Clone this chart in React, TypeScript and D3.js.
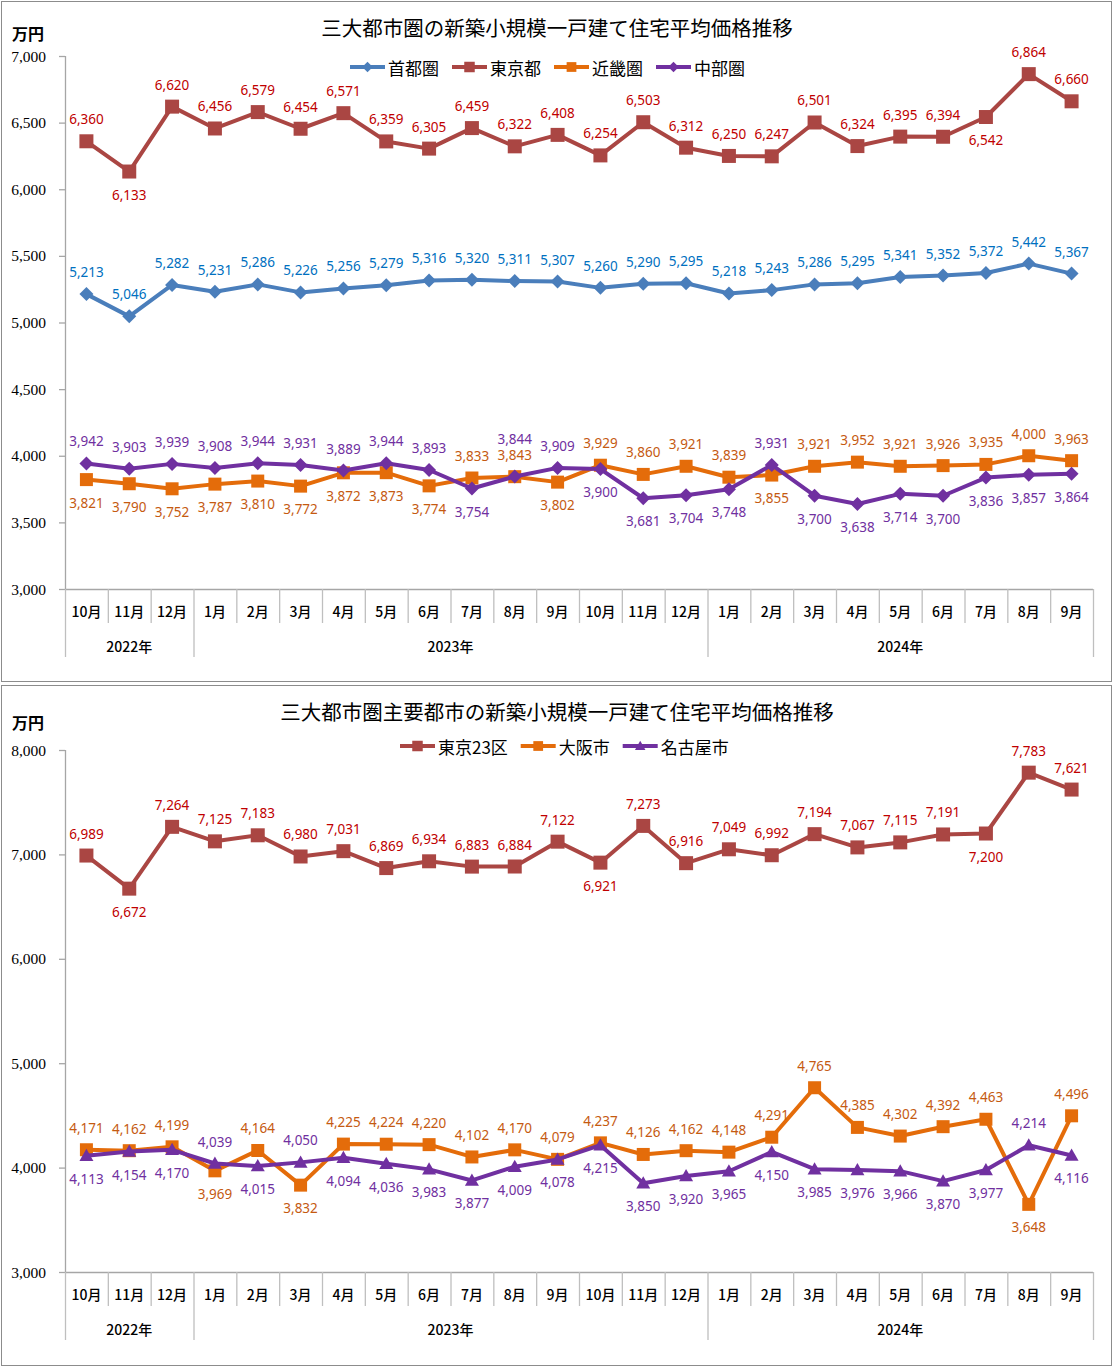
import React from "react";
import * as d3 from "d3";

// categories
const months = [
    "10月", "11月", "12月",
    "1月", "2月", "3月", "4月", "5月", "6月", "7月", "8月", "9月", "10月", "11月", "12月",
    "1月", "2月", "3月", "4月", "5月", "6月", "7月", "8月", "9月",
];
const yearLabels = ["2022年", "2023年", "2024年"];
const yearSpans = [3, 12, 9];

// chart 1 : 三大都市圏
const chart1Title = "三大都市圏の新築小規模一戸建て住宅平均価格推移";
const chart1Names = ["首都圏", "東京都", "近畿圏", "中部圏"];
const shutoken = [5213, 5046, 5282, 5231, 5286, 5226, 5256, 5279, 5316, 5320, 5311, 5307, 5260, 5290, 5295, 5218, 5243, 5286, 5295, 5341, 5352, 5372, 5442, 5367];
const tokyoto = [6360, 6133, 6620, 6456, 6579, 6454, 6571, 6359, 6305, 6459, 6322, 6408, 6254, 6503, 6312, 6250, 6247, 6501, 6324, 6395, 6394, 6542, 6864, 6660];
const kinkiken = [3821, 3790, 3752, 3787, 3810, 3772, 3872, 3873, 3774, 3833, 3843, 3802, 3929, 3860, 3921, 3839, 3855, 3921, 3952, 3921, 3926, 3935, 4000, 3963];
const chubuken = [3942, 3903, 3939, 3908, 3944, 3931, 3889, 3944, 3893, 3754, 3844, 3909, 3900, 3681, 3704, 3748, 3931, 3700, 3638, 3714, 3700, 3836, 3857, 3864];
// label side per point: a = above, A = higher above, b = below
const chart1Sides = [
    "aaaaaaaaaaaaaaaaaaaaaaaa",
    "abaaaaaaaaaaaaaaaaaaabaa",
    "bbbbbbbbbaabaaaabaaaaaaa",
    "aaaaaaaaabAabbbbabbbbbbb",
];
const chart1Ticks = [3000, 3500, 4000, 4500, 5000, 5500, 6000, 6500, 7000];

// chart 2 : 主要都市
const chart2Title = "三大都市圏主要都市の新築小規模一戸建て住宅平均価格推移";
const chart2Names = ["東京23区", "大阪市", "名古屋市"];
const tokyo23 = [6989, 6672, 7264, 7125, 7183, 6980, 7031, 6869, 6934, 6883, 6884, 7122, 6921, 7273, 6916, 7049, 6992, 7194, 7067, 7115, 7191, 7200, 7783, 7621];
const osaka = [4171, 4162, 4199, 3969, 4164, 3832, 4225, 4224, 4220, 4102, 4170, 4079, 4237, 4126, 4162, 4148, 4291, 4765, 4385, 4302, 4392, 4463, 3648, 4496];
const nagoya = [4113, 4154, 4170, 4039, 4015, 4050, 4094, 4036, 3983, 3877, 4009, 4078, 4215, 3850, 3920, 3965, 4150, 3985, 3976, 3966, 3870, 3977, 4214, 4116];
const chart2Sides = [
    "abaaaaaaaaaabaaaaaaaabaa",
    "aaababaaaaaaaaaaaaaaaaba",
    "bbbababbbbbbbbbbbbbbbbab",
];
const chart2Ticks = [3000, 4000, 5000, 6000, 7000, 8000];

const W = 1114;
const H = 1367;
const PLOT_LEFT = 65;
const PLOT_RIGHT = 1093;
const JP = "'Noto Sans CJK JP', 'Noto Sans', sans-serif";

type Marker = "diamond" | "square" | "bigsquare" | "triangle";

interface SeriesDef {
    name: string;
    values: number[];
    sides: string;
    line: string;
    label: string;
    marker: Marker;
}

function markerPath(m: Marker, x: number, y: number): string {
    if (m === "diamond") {
        const r = 7;
        return `M${x},${y - r}L${x + r},${y}L${x},${y + r}L${x - r},${y}Z`;
    }
    if (m === "triangle") {
        const r = 7;
        return `M${x},${y - r}L${x + r},${y + r * 0.75}L${x - r},${y + r * 0.75}Z`;
    }
    const r = m === "bigsquare" ? 7 : 6.5;
    return `M${x - r},${y - r}h${2 * r}v${2 * r}h${-2 * r}Z`;
}

function textWidth(s: string, size: number): number {
    let w = 0;
    for (const ch of s) w += /[\x00-\x7f]/.test(ch) ? size * 0.55 : size;
    return w;
}

const labelOffset: Record<string, number> = {a: -22, A: -38, b: 23};

interface ChartProps {
    panelY: number;
    panelH: number;
    title: string;
    titleY: number;
    legendY: number;
    legendX: number;
    unitY: number;
    plotTop: number;
    plotBottom: number;
    ticks: number[];
    series: SeriesDef[];
}

function Chart(props: ChartProps) {
    const {panelY, panelH, title, titleY, legendY, legendX, unitY, plotTop, plotBottom, ticks, series} = props;
    const x = d3.scaleBand<number>()
        .domain(d3.range(months.length))
        .range([PLOT_LEFT, PLOT_RIGHT])
        .paddingInner(0).paddingOuter(0);
    const bw = x.bandwidth();
    const y = d3.scaleLinear()
        .domain([d3.min(ticks) as number, d3.max(ticks) as number])
        .range([plotBottom, plotTop]);
    const fmt = d3.format(",");
    const line = d3.line<number>()
        .x((_, i) => (x(i) as number) + bw / 2)
        .y(d => y(d));

    const monthLabelY = plotBottom + 22;
    const yearLabelY = plotBottom + 57;
    const monthSepEnd = plotBottom + 34;
    const yearSepEnd = plotBottom + 68;

    // year boundaries
    const yearStarts: number[] = [];
    let acc = 0;
    yearSpans.forEach(s => { yearStarts.push(acc); acc += s; });
    const boundaryIdx = new Set<number>([...yearStarts, months.length]);

    // legend layout
    const legendFont = 17;
    let lx = legendX;
    const legendItems = series.map(s => {
        const item = {s, x: lx};
        lx += 38 + textWidth(s.name, legendFont) + 13;
        return item;
    });

    return (
        <g>
            <rect x={1.5} y={panelY + 0.5} width={1110} height={panelH} fill="#fff" stroke="#8c8c8c" strokeWidth={1} />
            <text x={557} y={titleY} textAnchor="middle" dominantBaseline="central"
                  fontFamily={JP} fontSize={20.5} fill="#000">{title}</text>
            <text x={12} y={unitY} dominantBaseline="central" fontFamily={JP} fontSize={16}
                  fontWeight={600} fill="#000">万円</text>

            {/* legend */}
            {legendItems.map(({s, x: ix}) => (
                <g key={s.name}>
                    <line x1={ix} x2={ix + 35} y1={legendY} y2={legendY} stroke={s.line} strokeWidth={4} />
                    <path d={markerPath(s.marker, ix + 17.5, legendY)} fill={s.line}
                          transform={`translate(${ix + 17.5},${legendY}) scale(0.75) translate(${-(ix + 17.5)},${-legendY})`} />
                    <text x={ix + 38} y={legendY} dominantBaseline="central" fontFamily={JP}
                          fontSize={legendFont} fill="#000">{s.name}</text>
                </g>
            ))}

            {/* y axis */}
            <line x1={PLOT_LEFT + 0.5} x2={PLOT_LEFT + 0.5} y1={plotTop} y2={plotBottom} stroke="#a6a6a6" strokeWidth={1.3} />
            {ticks.map(t => (
                <g key={t}>
                    <line x1={PLOT_LEFT - 6} x2={PLOT_LEFT} y1={y(t) + 0.5} y2={y(t) + 0.5} stroke="#a6a6a6" strokeWidth={1.3} />
                    <text x={46} y={y(t)} textAnchor="end" dominantBaseline="central"
                          fontFamily="'Liberation Serif', 'DejaVu Serif', serif" fontSize={15.5} fill="#000">{fmt(t)}</text>
                </g>
            ))}

            {/* x axis */}
            <line x1={PLOT_LEFT} x2={PLOT_RIGHT} y1={plotBottom + 0.5} y2={plotBottom + 0.5} stroke="#a6a6a6" strokeWidth={1.3} />
            {d3.range(months.length + 1).map(i => {
                const bx = i < months.length ? (x(i) as number) : PLOT_RIGHT;
                const end = boundaryIdx.has(i) ? yearSepEnd : monthSepEnd;
                return <line key={i} x1={bx + 0.5} x2={bx + 0.5} y1={plotBottom} y2={end} stroke="#bfbfbf" strokeWidth={1.3} />;
            })}
            {months.map((m, i) => (
                <text key={i} x={(x(i) as number) + bw / 2} y={monthLabelY} textAnchor="middle"
                      dominantBaseline="central" fontFamily={JP} fontSize={14} fontWeight={500} fill="#000">{m}</text>
            ))}
            {yearLabels.map((yl, k) => {
                const x0 = x(yearStarts[k]) as number;
                const x1 = yearStarts[k] + yearSpans[k] < months.length ? (x(yearStarts[k] + yearSpans[k]) as number) : PLOT_RIGHT;
                return <text key={yl} x={(x0 + x1) / 2} y={yearLabelY} textAnchor="middle"
                             dominantBaseline="central" fontFamily={JP} fontSize={14} fontWeight={500} fill="#000">{yl}</text>;
            })}

            {/* series */}
            {series.map(s => (
                <g key={s.name}>
                    <path d={line(s.values) || ""} fill="none" stroke={s.line} strokeWidth={4} strokeLinejoin="round" />
                    {s.values.map((v, i) => (
                        <path key={i} d={markerPath(s.marker, (x(i) as number) + bw / 2, y(v))} fill={s.line} />
                    ))}
                </g>
            ))}
            {series.map(s => (
                <g key={s.name + "-labels"}>
                    {s.values.map((v, i) => (
                        <text key={i} x={(x(i) as number) + bw / 2}
                              y={y(v) + labelOffset[s.sides[i]]}
                              textAnchor="middle" dominantBaseline="central"
                              fontFamily="'Noto Sans', sans-serif" fontSize={13.5} fill={s.label}>{fmt(v)}</text>
                    ))}
                </g>
            ))}
        </g>
    );
}

export default function App() {
    const series1: SeriesDef[] = [
        {name: chart1Names[0], values: shutoken, sides: chart1Sides[0], line: "#4a7ebb", label: "#0070c0", marker: "diamond"},
        {name: chart1Names[1], values: tokyoto, sides: chart1Sides[1], line: "#aa4643", label: "#c00000", marker: "bigsquare"},
        {name: chart1Names[2], values: kinkiken, sides: chart1Sides[2], line: "#e46c0a", label: "#c55a11", marker: "square"},
        {name: chart1Names[3], values: chubuken, sides: chart1Sides[3], line: "#7030a0", label: "#7030a0", marker: "diamond"},
    ];
    const series2: SeriesDef[] = [
        {name: chart2Names[0], values: tokyo23, sides: chart2Sides[0], line: "#aa4643", label: "#c00000", marker: "bigsquare"},
        {name: chart2Names[1], values: osaka, sides: chart2Sides[1], line: "#e46c0a", label: "#c55a11", marker: "square"},
        {name: chart2Names[2], values: nagoya, sides: chart2Sides[2], line: "#7030a0", label: "#7030a0", marker: "triangle"},
    ];
    return (
        <svg width={W} height={H} style={{position: "absolute", left: 0, top: 0, background: "#fff"}}>
            <Chart panelY={1} panelH={680} title={chart1Title} titleY={27} legendY={67} legendX={350}
                   unitY={33} plotTop={56} plotBottom={589} ticks={chart1Ticks} series={series1} />
            <Chart panelY={685} panelH={680} title={chart2Title} titleY={711} legendY={746} legendX={400}
                   unitY={722} plotTop={750} plotBottom={1272} ticks={chart2Ticks} series={series2} />
        </svg>
    );
}
